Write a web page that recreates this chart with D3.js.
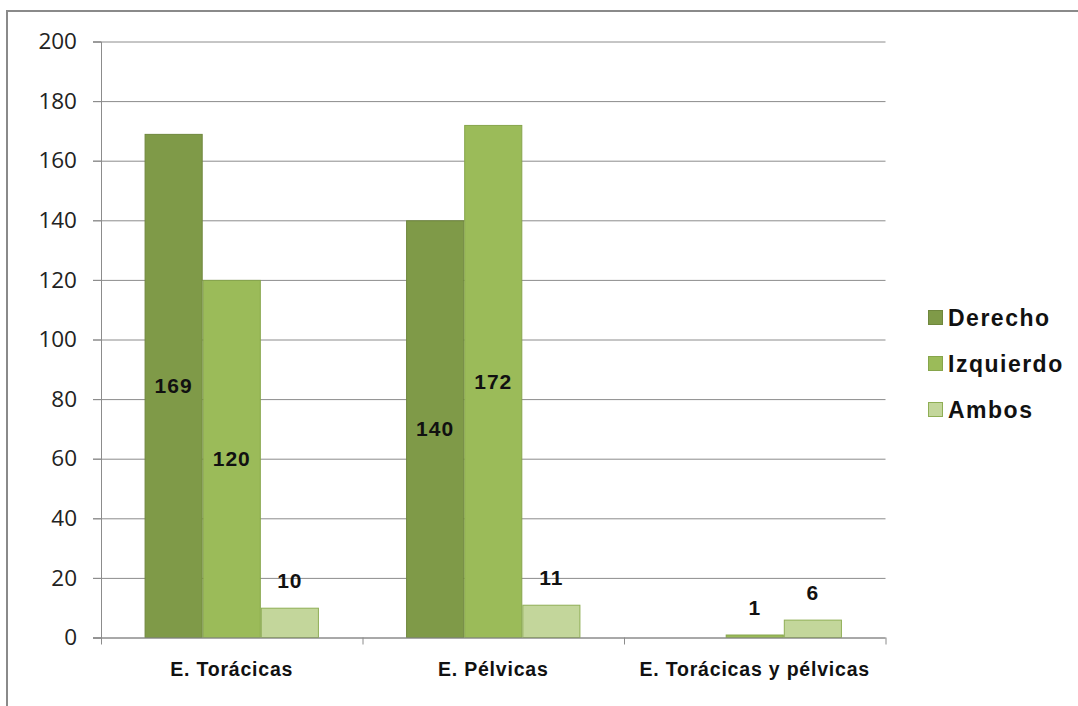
<!DOCTYPE html>
<html>
<head>
<meta charset="utf-8">
<script src="https://cdn.jsdelivr.net/npm/d3@7"></script>
<style>
  html, body { margin: 0; padding: 0; background: #fff; }
  svg { display: block; }
</style>
</head>
<body>
<svg id="chart" width="1078" height="706"></svg>
<script>
// Lateralidad por localización: Derecho / Izquierdo / Ambos
const categories = ["E. Torácicas", "E. Pélvicas", "E. Torácicas y pélvicas"];
const seriesNames = ["Derecho", "Izquierdo", "Ambos"];
const derecho = [169, 140, 0];
const izquierdo = [120, 172, 1];
const ambos = [10, 11, 6];
const yTicks = [0, 20, 40, 60, 80, 100, 120, 140, 160, 180, 200];

const seriesValues = [derecho, izquierdo, ambos];
const colors = ["#7f9a48", "#9bbb59", "#c3d69b"];
const strokes = ["#6f873d", "#86a54b", "#8fae55"];

const svg = d3.select("#chart");
const W = 1078, H = 706;

const plot = { left: 101, right: 885.5, top: 41.5, bottom: 637.5 };

// outer frame (top and left edges visible)
svg.append("path")
  .attr("d", `M7,${H} V11 H${W}`)
  .attr("fill", "none")
  .attr("stroke", "#8a8a8a")
  .attr("stroke-width", 2);

const y = d3.scaleLinear().domain([0, 200]).range([plot.bottom, plot.top]);
const x0 = d3.scaleBand().domain(categories).range([plot.left, plot.right]).padding(0);
const bw = x0.bandwidth();
// gap width 150% of a bar, split on both sides of each group
const half = bw * 0.75 / 4.5;
const x1 = d3.scaleBand().domain(seriesNames).range([half, bw - half]).padding(0);

// horizontal gridlines
svg.append("g")
  .attr("transform", `translate(${plot.left - 8},0)`)
  .call(d3.axisRight(y).tickValues(yTicks).tickSize(plot.right - plot.left + 8).tickFormat(""))
  .call(g => g.select(".domain").remove())
  .call(g => g.selectAll(".tick line").attr("stroke", "#8c8c8c").attr("stroke-width", 1));

// y axis
svg.append("g")
  .attr("transform", `translate(${plot.left},0)`)
  .call(d3.axisLeft(y).tickValues(yTicks).tickSize(8).tickPadding(16))
  .call(g => g.select(".domain").attr("stroke", "#8c8c8c"))
  .call(g => g.selectAll(".tick line").attr("stroke", "#8c8c8c"))
  .call(g => g.selectAll(".tick text")
    .attr("font-family", "'Open Sans', sans-serif")
    .attr("font-size", 22.5)
    .attr("fill", "#222"));

// bars
const groups = svg.append("g").selectAll("g")
  .data(categories)
  .join("g")
  .attr("transform", d => `translate(${x0(d)},0)`);

const rows = (ci) => seriesNames.map((s, si) => ({ s, si, v: seriesValues[si][ci] }));

groups.selectAll("rect")
  .data((d, i) => rows(i).filter(r => r.v > 0))
  .join("rect")
  .attr("x", r => x1(r.s) + 0.5)
  .attr("y", r => y(r.v) + 0.5)
  .attr("width", x1.bandwidth() - 1)
  .attr("height", r => y(0) - y(r.v) - 0.5)
  .attr("fill", r => colors[r.si])
  .attr("stroke", r => strokes[r.si])
  .attr("stroke-width", 1);

// x axis line with category separators
const xIdx = d3.scaleLinear().domain([0, categories.length]).range([plot.left, plot.right]);
svg.append("g")
  .attr("transform", `translate(0,${plot.bottom})`)
  .call(d3.axisBottom(xIdx).tickValues(d3.range(categories.length + 1)).tickSize(7).tickFormat("").tickSizeOuter(0))
  .call(g => g.select(".domain").attr("stroke", "#8c8c8c").attr("d", `M${plot.left - 8},0.5H${plot.right}`))
  .call(g => g.selectAll(".tick line").attr("stroke", "#8c8c8c"));

// category labels
svg.append("g")
  .attr("transform", `translate(0,${plot.bottom})`)
  .call(d3.axisBottom(x0).tickSize(0).tickPadding(25))
  .call(g => g.select(".domain").remove())
  .call(g => g.selectAll(".tick text")
    .attr("font-family", "'Liberation Sans', Arial, sans-serif")
    .attr("font-weight", "bold")
    .attr("font-size", 19.5)
    .attr("letter-spacing", "0.8px")
    .attr("fill", "#111"));

// value labels: centered inside tall bars, above short ones
groups.selectAll("text.val")
  .data((d, i) => rows(i).filter(r => r.v > 0))
  .join("text")
  .attr("class", "val")
  .attr("x", r => x1(r.s) + x1.bandwidth() / 2)
  .attr("y", r => (y(0) - y(r.v) > 45) ? y(r.v / 2) : y(r.v) - 27)
  .attr("dy", "0.36em")
  .attr("text-anchor", "middle")
  .attr("font-family", "'Liberation Sans', Arial, sans-serif")
  .attr("font-weight", "bold")
  .attr("font-size", 21)
  .attr("letter-spacing", "1px")
  .attr("fill", "#111")
  .text(r => r.v);

// legend
const legend = svg.append("g").attr("transform", "translate(928,318)");
const items = legend.selectAll("g")
  .data(seriesNames)
  .join("g")
  .attr("transform", (d, i) => `translate(0,${i * 46})`);
items.append("rect")
  .attr("x", 0.5).attr("y", -7.5)
  .attr("width", 14).attr("height", 14)
  .attr("fill", (d, i) => colors[i])
  .attr("stroke", (d, i) => strokes[i]);
items.append("text")
  .attr("x", 20)
  .attr("y", 0)
  .attr("dy", "0.36em")
  .attr("font-family", "'Liberation Sans', Arial, sans-serif")
  .attr("font-weight", "bold")
  .attr("font-size", 23)
  .attr("letter-spacing", "1.5px")
  .attr("fill", "#111")
  .text(d => d);
</script>
</body>
</html>
